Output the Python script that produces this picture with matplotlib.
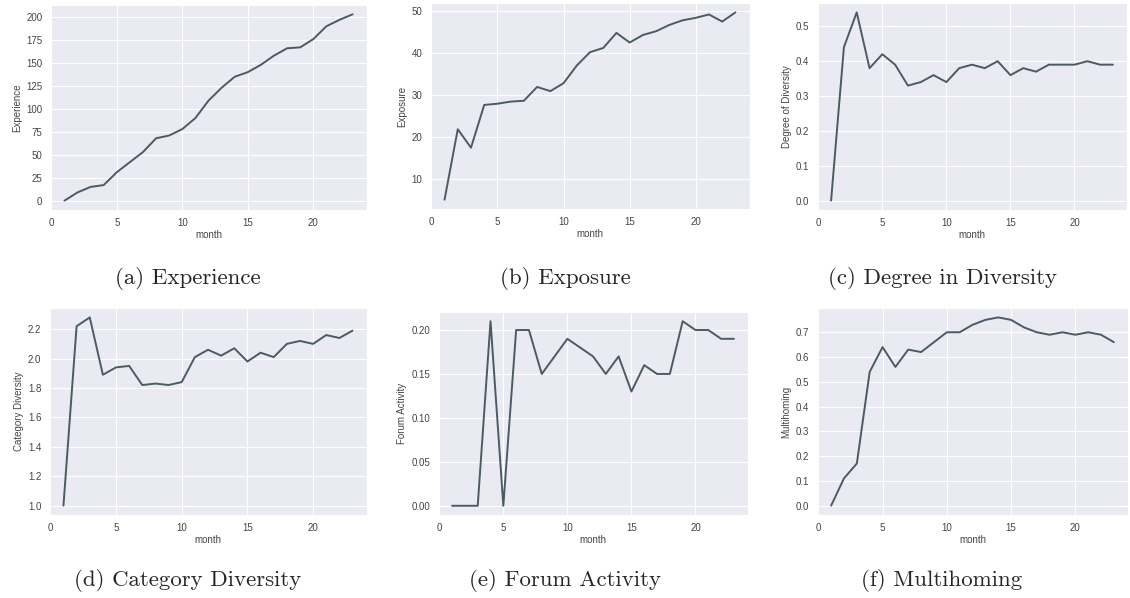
import matplotlib
matplotlib.use('Agg')
import matplotlib.pyplot as plt
import seaborn as sns

# monthly averages per panel
months = list(range(1, 24))
experience = [0, 9, 15, 17, 31, 42, 53, 68, 71, 78, 90, 109, 123, 135, 140, 148, 158, 166, 167, 176, 190, 197, 203]
exposure = [5, 21.8, 17.4, 27.6, 27.9, 28.4, 28.6, 31.9, 30.9, 32.8, 37, 40.2, 41.2, 44.8, 42.5, 44.3,
            45.2, 46.7, 47.8, 48.4, 49.2, 47.5, 49.7]
degree_diversity = [0, 0.44, 0.54, 0.38, 0.42, 0.39, 0.33, 0.34, 0.36, 0.34, 0.38, 0.39, 0.38, 0.40,
                    0.36, 0.38, 0.37, 0.39, 0.39, 0.39, 0.40, 0.39, 0.39]
category_diversity = [1.0, 2.22, 2.28, 1.89, 1.94, 1.95, 1.82, 1.83, 1.82, 1.84, 2.01, 2.06, 2.02, 2.07,
                      1.98, 2.04, 2.01, 2.10, 2.12, 2.10, 2.16, 2.14, 2.19]
forum_activity = [0, 0, 0, 0.21, 0, 0.20, 0.20, 0.15, 0.17, 0.19, 0.18, 0.17, 0.15, 0.17, 0.13, 0.16,
                  0.15, 0.15, 0.21, 0.20, 0.20, 0.19, 0.19]
multihoming = [0, 0.11, 0.17, 0.54, 0.64, 0.56, 0.63, 0.62, 0.66, 0.70, 0.70, 0.73, 0.75, 0.76, 0.75,
               0.72, 0.70, 0.69, 0.70, 0.69, 0.70, 0.69, 0.66]

ylabels = ['Experience', 'Exposure', 'Degree of Diversity',
           'Category Diversity', 'Forum Activity', 'Multihoming']
captions = ['(a) Experience', '(b) Exposure', '(c) Degree in Diversity',
            '(d) Category Diversity', '(e) Forum Activity', '(f) Multihoming']
series = [experience, exposure, degree_diversity, category_diversity, forum_activity, multihoming]

sns.set_style('darkgrid')
plt.rcParams['font.family'] = ['Liberation Sans', 'DejaVu Sans']

W, H = 1130, 598
fig = plt.figure(figsize=(W / 100, H / 100), dpi=100)

# axes boxes in pixels: left, top, right, bottom
boxes = [(50, 5, 367, 210), (430, 3, 750, 209), (817, 3, 1127, 210),
         (49, 308, 367, 515), (438, 312, 748, 515), (817, 308, 1128, 515)]
# captions sit under the middle of each column
caption_x = [188, 565, 942] * 2
caption_y = [279, 279, 279, 581, 581, 581]

for i, (box, y, lab, cap) in enumerate(zip(boxes, series, ylabels, captions)):
    l, t, r, b = box
    ax = fig.add_axes([l / W, 1 - b / H, (r - l) / W, (b - t) / H])
    ax.plot(months, y, color='#4b5b64', lw=1.4)
    ax.set_xticks([0, 5, 10, 15, 20])
    ax.tick_params(labelsize=7, colors='#444444', pad=2)
    ax.set_xlabel('month', fontsize=7, color='#444444', labelpad=2)
    ax.set_ylabel(lab, fontsize=7, color='#444444', labelpad=3)
    fig.text(caption_x[i] / W, 1 - caption_y[i] / H, cap, ha='center', va='center',
             fontsize=16.5, family=['cmr10', 'DejaVu Serif'])

fig.savefig('out.png', dpi=100, facecolor='white')
